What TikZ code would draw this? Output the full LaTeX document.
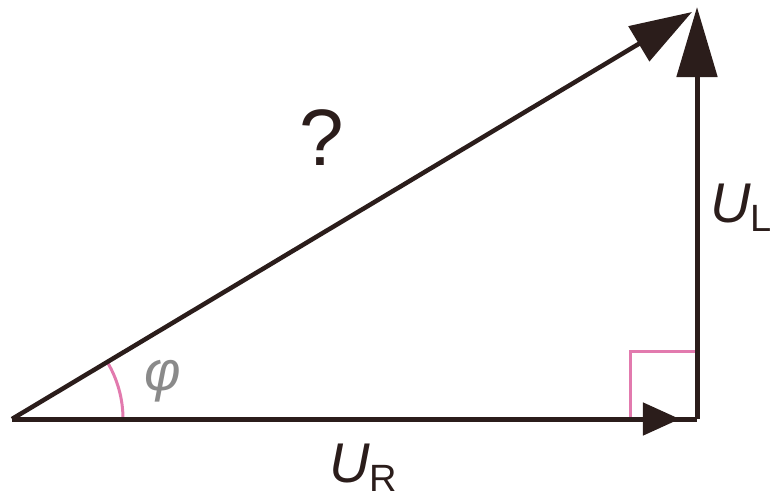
\documentclass[tikz,border=0pt]{standalone}
\usepackage{fontspec}
\setmainfont{Liberation Sans}
\usetikzlibrary{arrows.meta,decorations.markings}
\definecolor{ink}{HTML}{2B1D1B}
\definecolor{pinkish}{HTML}{E27AAE}
\definecolor{phigray}{HTML}{8A8A8A}
\tikzset{
  vec/.style={draw=ink, line width=5pt},
  helper/.style={draw=pinkish, line width=3pt},
  lbl/.style={inner sep=0pt, text=ink, font=\fontsize{56}{60}\selectfont},
}
\newcommand{\vsub}[2]{\textit{#1}\raisebox{-9pt}{\fontsize{38}{40}\selectfont #2}}
\begin{document}
\begin{tikzpicture}[x=1pt,y=-1pt]
\useasboundingbox (0,0) rectangle (774,499);
\coordinate (O) at (12,419);
\coordinate (A) at (697,419);
\coordinate (B) at (697,7);
\coordinate (Bh) at (692,12);
% right angle mark
\draw[helper] (630,419) -- (630,351) -- (697,351);
% angle arc
\draw[helper] (123,419) arc[start angle=0, end angle=-30.9, radius=111];
% U_R with arrow head near end
\draw[vec, postaction={decorate, decoration={markings,
   mark=at position 0.975 with {\arrow[ink]{Triangle[length=37pt,width=32pt]}}}}] (O) -- (A);
% U_L
\draw[vec, -{Triangle[length=70pt,width=40pt]}] (A) -- (B);
% hypotenuse
\draw[vec, line width=4.5pt, -{Triangle[length=62pt,width=40pt]}] (O) -- (Bh);
% labels
\node[lbl, anchor=base west] (ur) at (329,482) {\vsub{U}{R}};
\node[lbl, anchor=base west] (ul) at (710,222) {\vsub{U}{L}};
\node[lbl, anchor=base, font=\fontsize{80}{84}\selectfont] (q) at (322,165) {?};
\node[lbl, text=phigray, font=\fontsize{56}{60}\selectfont\itshape] (phi) at (163,381) {φ};
\end{tikzpicture}
\end{document}
